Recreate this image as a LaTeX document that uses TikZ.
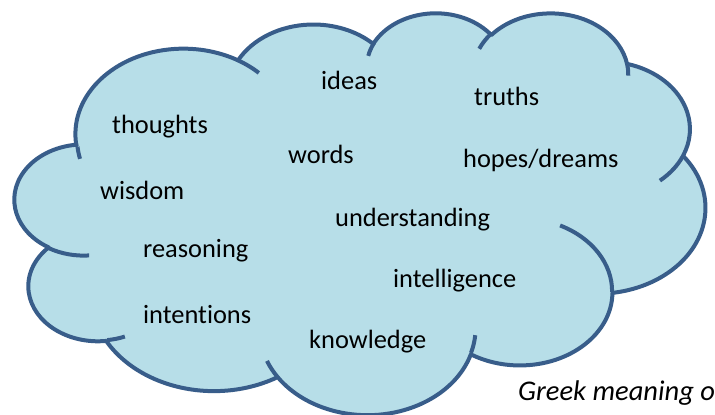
\documentclass[tikz,border=0pt]{standalone}
\usepackage{fontspec}
\setmainfont{Carlito}[Ligatures=NoCommon]
\usepackage{tikz}

\definecolor{cloudfill}{HTML}{B7DEE8}
\definecolor{cloudedge}{HTML}{385D8A}
\tikzset{
  cloudline/.style={draw=cloudedge, line width=4pt, line join=round},
  word/.style={anchor=base west, inner sep=0pt, font=\fontsize{26.4}{30}\selectfont}
}

\begin{document}
\begin{tikzpicture}[x=1pt,y=-1pt]
\useasboundingbox (0,0) rectangle (715,415);
% the cloud, in the 432x432 box of the shape
\begin{scope}[shift={(14pt,-12pt)},x=1.6pt,y=-0.93pt]
\path[cloudline, fill=cloudfill] (39,143.70) coordinate (j1)
  arc[start angle=-187.75, delta angle=128.11, x radius=67.53, y radius=91.90] coordinate (j2)
  arc[start angle=-152.02, delta angle=106.57, x radius=53.33, y radius=72.67] coordinate (j3)
  arc[start angle=-153.49, delta angle=116.16, x radius=43.65, y radius=59.45] coordinate (j4)
  arc[start angle=-139.71, delta angle=129.50, x radius=48.57, y radius=65.95] coordinate (j5)
  arc[start angle=-74.76, delta angle=97.97, x radius=53.33, y radius=72.73] coordinate (j6)
  arc[start angle=-37.52, delta angle=119.38, x radius=67.75, y radius=92.20] coordinate (j7)
  arc[start angle=0.46, delta angle=121.52, x radius=57.85, y radius=78.67] coordinate (j8)
  arc[start angle=16.86, delta angle=129.38, x radius=67.52, y radius=92.15] coordinate (j9)
  arc[start angle=58.98, delta angle=91.82, x radius=77.20, y radius=105.43] coordinate (j10)
  arc[start angle=83.31, delta angle=141.62, x radius=43.60, y radius=59.18] coordinate (j11)
  arc[start angle=120.35, delta angle=143.77, x radius=43.45, y radius=59.45] -- cycle;
% inner bits of the lobes
\draw[cloudline] (46.93,261.77) arc[start angle=85.55, delta angle=34.80, x radius=43.45, y radius=59.45];
\draw[cloudline] (69.28,348.99) arc[start angle=68.22, delta angle=15.09, x radius=43.60, y radius=59.18];
\draw[cloudline] (j9) arc[start angle=146.24, delta angle=12.23, x radius=67.52, y radius=92.15];
\draw[cloudline] (288.27,347.51) arc[start angle=4.74, delta angle=12.12, x radius=67.52, y radius=92.15];
\draw[cloudline] (341.29,229.54) arc[start angle=-64.03, delta angle=64.49, x radius=57.85, y radius=78.67];
\draw[cloudline] (j6) arc[start angle=23.21, delta angle=26.42, x radius=53.33, y radius=72.73];
\draw[cloudline] (j5) arc[start angle=-10.21, delta angle=11.03, x radius=48.57, y radius=65.95];
\draw[cloudline] (290.78,39.52) arc[start angle=-156.28, delta angle=16.57, x radius=48.57, y radius=65.95];
\draw[cloudline] (221.41,47.20) arc[start angle=-167.73, delta angle=14.24, x radius=43.65, y radius=59.45];
\draw[cloudline] (j2) arc[start angle=-59.63, delta angle=13.90, x radius=67.53, y radius=91.90];
\draw[cloudline] (41.27,157.89) arc[start angle=166.56, delta angle=8.26, x radius=67.53, y radius=91.90];
\end{scope}

% words
\node[word](ideas) at (321,89){ideas};
\node[word](truths) at (474,105){truths};
\node[word](thoughts) at (112,133){thoughts};
\node[word](words) at (288,163){words};
\node[word](hopes) at (463,167){hopes/dreams};
\node[word](wisdom) at (100,199){wisdom};
\node[word](underst) at (335,226){understanding};
\node[word](reasoning) at (143,257){reasoning};
\node[word](intell) at (393,287){intelligence};
\node[word](intentions) at (143,323){intentions};
\node[word](knowledge) at (309,348){knowledge};
\node[word, font=\fontsize{28.5}{32}\selectfont\itshape](greek) at (518,400.5){Greek meaning of};
\end{tikzpicture}
\end{document}
